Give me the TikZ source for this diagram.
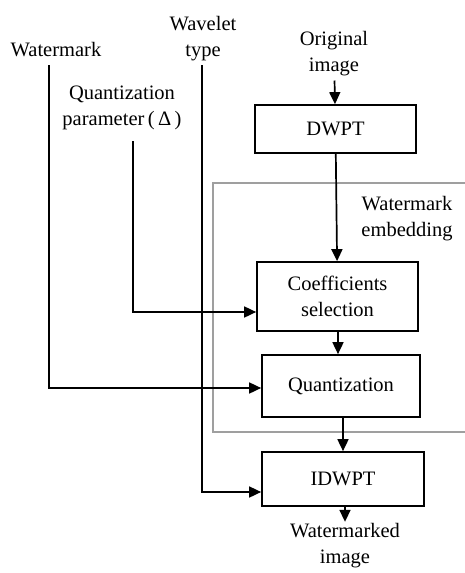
\documentclass[tikz,border=0pt]{standalone}
\usepackage{fontspec}
\setmainfont{Liberation Serif}
\usetikzlibrary{positioning,arrows.meta}

\begin{document}
\begin{tikzpicture}[x=1pt, y=-1pt, font=\fontsize{20.5}{26}\selectfont, align=center, line width=1.7pt, >={Triangle[length=12pt,width=11pt]}, block/.style={draw, shape=rectangle, line width=1.7pt}]
    \useasboundingbox (0,0) rectangle (464,573);

    % embedding area
    \draw [gray!75, line width=1.3pt] (213,183) rectangle (470,432);
    \node (embed) at (407,219) {Watermark\\embedding};

    \node (orig) at (334,54) {Original\\image};
    \node (wm) at (56,50) {Watermark};
    \node (wave) at (203,39) {Wavelet\\type};
    \node (qpar) at (122,108) {Quantization\\parameter\,(\,Δ\,)};

    \node (dwpt) [block, minimum width=161, minimum height=48] at (335.5,129) {DWPT};
    \node (coef) [block, minimum width=161, minimum height=69] at (337.5,296.5) {Coefficients\\selection};
    \node (quant) [block, minimum width=158, minimum height=62] at (341,386) {Quantization};
    \node (idwpt) [block, minimum width=162, minimum height=54] at (343,479) {IDWPT};
    \node (out) [inner sep=1pt] at (345,546) {Watermarked\\image};

    \coordinate (wmtop) at (49,65);
    \coordinate (wavetop) at (202,65);
    \coordinate (qpartop) at (133,141);

    \draw [->] (orig) -- (dwpt);
    \draw [->] (dwpt) -- (coef);
    \draw [->] (coef.south -| 338,0) -- (quant.north -| 338,0);
    \draw [->] (quant.south -| 343,0) -- (idwpt.north -| 343,0);
    \draw [->] (idwpt.south -| 345,0) -- (out);

    \draw [->] (qpartop) |- (coef.west |- 0,312);
    \draw [->] (wmtop) |- (quant.west |- 0,388);
    \draw [->] (wavetop) |- (idwpt.west |- 0,492);
\end{tikzpicture}
\end{document}
